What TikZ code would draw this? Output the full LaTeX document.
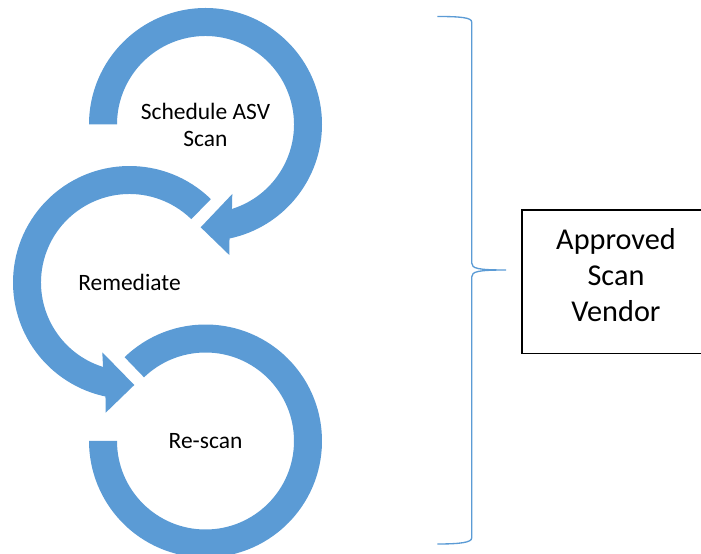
\documentclass[tikz,border=0pt]{standalone}
\usepackage{fontspec}
\setmainfont{Carlito}
\definecolor{ringblue}{HTML}{5B9BD5}
\tikzset{
  ring/.style={fill=ringblue},
  steptext/.style={align=center, font=\fontsize{17.6}{20.3}\selectfont},
  vendorbox/.style={draw=black, line width=0.8pt, minimum width=141pt, minimum height=107.5pt},
  vendortext/.style={align=center, font=\fontsize{22.7}{27}\selectfont},
  bracket/.style={draw=ringblue, line width=1pt}
}
\begin{document}
\begin{tikzpicture}[x=0.75pt, y=0.75pt]
  \useasboundingbox (0,0) rectangle (701,554);
  \clip (0,0) rectangle (701,554);
  % Tâm các vòng
  \coordinate (C1) at (205.5,429.5);
  \coordinate (C2) at (129.5,271.5);
  \coordinate (C3) at (205.5,113);
  % Vòng 1: Schedule ASV Scan
  \fill[ring] ([shift={(180:116.5)}]C1) arc[start angle=180, end angle=-78.1, radius=116.5]
    -- ([shift={(23.8,-130.5)}]C1) -- ([shift={(-4.8,-102.8)}]C1) -- ([shift={(26.8,-69.5)}]C1)
    -- ([shift={(-72.6:88.5)}]C1) arc[start angle=-72.6, end angle=180, radius=88.5] -- cycle;
  % Vòng 2: Remediate
  \fill[ring] ([shift={(45.7:116.5)}]C2) arc[start angle=45.7, end angle=258.1, radius=116.5]
    -- ([shift={(-23.8,-130.2)}]C2) -- ([shift={(4.8,-102.5)}]C2) -- ([shift={(-27.2,-69.8)}]C2)
    -- ([shift={(252.6:88.5)}]C2) arc[start angle=252.6, end angle=45.7, radius=88.5] -- cycle;
  % Vòng 3: Re-scan
  \fill[ring] ([shift={(134:116.5)}]C3) arc[start angle=134, end angle=-180, radius=116.5]
    -- ([shift={(180:88.5)}]C3) arc[start angle=-180, end angle=134, radius=88.5] -- cycle;
  % Nhãn
  \node[steptext] (sched) at (C1) {Schedule ASV\\Scan};
  \node[steptext] (remed) at (C2) {Remediate};
  \node[steptext] (rescan) at (C3) {Re-scan};
  % Ngoặc nhọn
  \coordinate (T) at (437.3,537.5);
  \coordinate (M) at (506,284);
  \coordinate (B) at (437.3,10);
  \draw[bracket] (T) .. controls (460,537.5) and (471.7,536.5) .. (471.7,532)
    -- (471.7,291) .. controls (471.7,285.5) and (478,284) .. (M)
    .. controls (478,284) and (471.7,282.5) .. (471.7,277)
    -- (471.7,16) .. controls (471.7,11.5) and (460,10) .. (B);
  % Hộp nhà cung cấp
  \node[vendorbox] (box) at (616,272.3) {};
  \node[vendortext] (asv) at ([yshift=5.25pt]box.center) {Approved\\Scan\\Vendor};
\end{tikzpicture}
\end{document}
